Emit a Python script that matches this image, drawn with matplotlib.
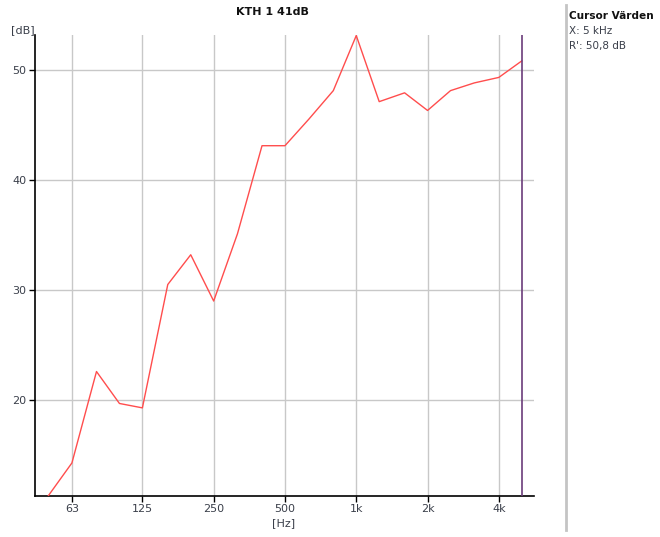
import numpy as np
import matplotlib
matplotlib.use("Agg")
import matplotlib.pyplot as plt

plt.rcParams.update({"font.family": "DejaVu Sans"})

# third-octave band centres [Hz] and measured level [dB]
freqs = [50, 63, 80, 100, 125, 160, 200, 250, 315, 400, 500, 630, 800,
         1000, 1250, 1600, 2000, 2500, 3150, 4000, 5000]
levels = [11.3, 14.3, 22.6, 19.7, 19.3, 30.5, 33.2, 29.0, 35.1, 43.1, 43.1,
          45.5, 48.1, 53.1, 47.1, 47.9, 46.3, 48.1, 48.8, 49.3, 50.8]

xticks = [63, 125, 250, 500, 1000, 2000, 4000]
xticklabels = ["63", "125", "250", "500", "1k", "2k", "4k"]
yticks = [20, 30, 40, 50]

cursor_freq = 5000
cursor_level = 50.8

RED = "#ff4d4d"
GRID = "#c8c8c8"
TXT = "#3a3f4a"

fig = plt.figure(figsize=(6.6, 5.37), dpi=100)
ax = fig.add_axes([35 / 660, 41 / 537, 499 / 660, 461 / 537])

ax.set_xscale("log", base=2)
ax.plot(freqs, levels, color=RED, lw=1.0, zorder=3, clip_on=True)
ax.axvline(cursor_freq, color="#6b3c7a", lw=1.2, zorder=4)

ax.set_xlim(44, 5630)
ax.set_ylim(11.3, 53.15)
ax.set_xticks(xticks)
ax.set_xticklabels(xticklabels)
ax.minorticks_off()
ax.set_yticks(yticks)

ax.grid(True, color=GRID, lw=1.0)
ax.set_axisbelow(True)
for s in ("top", "right"):
    ax.spines[s].set_visible(False)
for s in ("left", "bottom"):
    ax.spines[s].set_color("black")
    ax.spines[s].set_linewidth(1.2)
ax.tick_params(axis="both", length=4, width=1, color="black",
               labelsize=8, labelcolor=TXT, pad=2)

fig.text(35 / 660, 1 - 30 / 537, "[dB]", ha="right", va="center",
         fontsize=8, color=TXT)
fig.text(284 / 660, 1 - 523 / 537, "[Hz]", ha="center", va="center",
         fontsize=8, color=TXT)
fig.text(272 / 660, 1 - 12 / 537, "KTH 1 41dB", ha="center", va="center",
         fontsize=8, fontweight="bold", color="#111111")

# cursor readout panel on the right
fig.add_artist(plt.Line2D([566 / 660, 566 / 660], [1 - 5 / 537, 1 - 530 / 537],
                          transform=fig.transFigure, color="#c4c4c4", lw=2))
fig.text(569 / 660, 1 - 16 / 537, "Cursor Värden", ha="left", va="center",
         fontsize=7.6, fontweight="bold", color="#111111")
fig.text(569 / 660, 1 - 31 / 537, f"X: {cursor_freq // 1000} kHz",
         ha="left", va="center", fontsize=7.5, color=TXT)
fig.text(569 / 660, 1 - 46 / 537,
         "R': " + f"{cursor_level:.1f}".replace(".", ",") + " dB",
         ha="left", va="center", fontsize=7.5, color=TXT)

fig.savefig("out.png", dpi=100)
